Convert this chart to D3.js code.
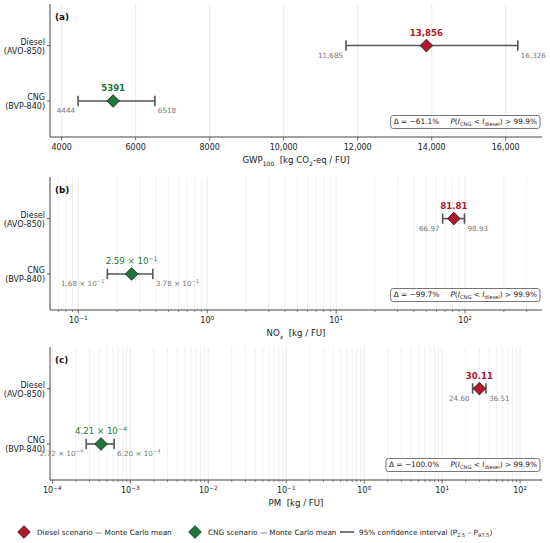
<!DOCTYPE html>
<html>
<head>
<meta charset="utf-8">
<script src="https://cdn.jsdelivr.net/npm/d3@7"></script>
<style>
  body { margin: 0; background: #fff; }
  svg { font-family: "DejaVu Sans", sans-serif; }
  text { white-space: pre; }
</style>
</head>
<body>
<svg id="chart" width="550" height="543"></svg>
<script>
// scenario order: Diesel first, CNG second
const scenarios = ['Diesel', 'CNG'];
const vehicles = ['(AVO-850)', '(BVP-840)'];

const gwpMean = [13856, 5391];
const gwpLo = [11685, 4444];
const gwpHi = [16326, 6518];

const noxMean = [81.81, 0.259];
const noxLo = [66.97, 0.168];
const noxHi = [98.93, 0.378];

const pmMean = [30.11, 4.21e-4];
const pmLo = [24.60, 2.72e-4];
const pmHi = [36.51, 6.20e-4];

const panelTags = ['(a)', '(b)', '(c)'];
const deltas = ['\u221261.1%', '\u221299.7%', '\u2212100.0%'];
const gwpTicks = [4000, 6000, 8000, 10000, 12000, 14000, 16000];

const colors = { Diesel: '#b2182b', CNG: '#1b7837' };
const ciColor = '#555';
const labelGray = '#777';

const svg = d3.select('#chart');
const left = 50, right = 542, panelH = 133;
const tops = [4, 177, 347];

function fmtGwp(v) {
    return v >= 10000 ? d3.format(',')(v) : d3.format('d')(v);
}

// write "m × 10^e" with a superscript into a text selection
function sciText(sel, v) {
    const e = Math.floor(Math.log10(v));
    const m = v / Math.pow(10, e);
    sel.append('tspan').text(`${m.toFixed(2)} \u00d7 10`);
    sel.append('tspan').attr('dy', -3).attr('font-size', '0.72em').text(String(e).replace('-', '\u2212'));
}

function valueText(sel, v, kind) {
    if (kind === 'gwp') sel.text(fmtGwp(v));
    else if (v < 1) sciText(sel, v);
    else sel.text(v.toFixed(2));
}

function drawPanel(i, cfg) {
    const top = tops[i], bottom = top + panelH;
    const g = svg.append('g');

    const x = cfg.log
        ? d3.scaleLog().domain(cfg.domain).range([left, right])
        : d3.scaleLinear().domain(cfg.domain).range([left, right]);
    const y = d3.scaleLinear().domain([-0.65, 1.75]).range([bottom, top]);
    const yPos = s => (s === 'Diesel' ? y(1) : y(0));

    // grid
    let majors, minors = [];
    if (cfg.log) {
        const lo = Math.ceil(Math.log10(cfg.domain[0]));
        const hi = Math.floor(Math.log10(cfg.domain[1]));
        majors = d3.range(lo, hi + 1).map(e => Math.pow(10, e));
        for (let e = lo - 1; e <= hi; e++) {
            for (let k = 2; k <= 9; k++) {
                const v = k * Math.pow(10, e);
                if (v >= cfg.domain[0] && v <= cfg.domain[1]) minors.push(v);
            }
        }
    } else {
        majors = gwpTicks;
    }

    g.selectAll('.gmin').data(minors).enter().append('line')
        .attr('x1', d => x(d)).attr('x2', d => x(d))
        .attr('y1', top).attr('y2', bottom)
        .attr('stroke', '#e6e6e6').attr('stroke-width', 0.6);
    g.selectAll('.gmaj').data(majors).enter().append('line')
        .attr('x1', d => x(d)).attr('x2', d => x(d))
        .attr('y1', top).attr('y2', bottom)
        .attr('stroke', '#e3e3e3').attr('stroke-width', 0.7);

    // spines
    g.append('line').attr('x1', left).attr('x2', left).attr('y1', top).attr('y2', bottom)
        .attr('stroke', '#444').attr('stroke-width', 1);
    g.append('line').attr('x1', left).attr('x2', right).attr('y1', bottom).attr('y2', bottom)
        .attr('stroke', '#444').attr('stroke-width', 1);

    // x ticks
    g.selectAll('.tmin').data(minors).enter().append('line')
        .attr('x1', d => x(d)).attr('x2', d => x(d))
        .attr('y1', bottom).attr('y2', bottom + 2)
        .attr('stroke', '#444').attr('stroke-width', 0.6);
    g.selectAll('.tmaj').data(majors).enter().append('line')
        .attr('x1', d => x(d)).attr('x2', d => x(d))
        .attr('y1', bottom).attr('y2', bottom + 3.5)
        .attr('stroke', '#444').attr('stroke-width', 0.8);

    const tl = g.selectAll('.tl').data(majors).enter().append('text')
        .attr('x', d => x(d)).attr('y', bottom + 13)
        .attr('text-anchor', 'middle').attr('font-size', 8).attr('fill', '#222');
    if (cfg.log) {
        tl.each(function(d) {
            const t = d3.select(this);
            const e = Math.round(Math.log10(d));
            t.append('tspan').text('10');
            t.append('tspan').attr('dy', -3.5).attr('font-size', '0.72em')
                .text(String(e).replace('-', '\u2212'));
        });
    } else {
        tl.text(d => fmtGwp(d));
    }

    // axis label
    const xl = g.append('text').attr('x', (left + right) / 2).attr('y', bottom + 26)
        .attr('text-anchor', 'middle').attr('font-size', 8.6).attr('fill', '#222');
    cfg.axisLabel(xl);

    // y ticks and labels
    scenarios.forEach((s, k) => {
        const yy = yPos(s);
        g.append('line').attr('x1', left - 3).attr('x2', left).attr('y1', yy).attr('y2', yy)
            .attr('stroke', '#444').attr('stroke-width', 0.8);
        const t = g.append('text').attr('text-anchor', 'end').attr('font-size', 8).attr('fill', '#222');
        t.append('tspan').attr('x', left - 5).attr('y', yy - 1).text(s);
        t.append('tspan').attr('x', left - 5).attr('y', yy + 8.5).text(vehicles[k]);
    });

    // panel tag
    g.append('text').attr('x', left + 5).attr('y', top + 16)
        .attr('font-size', 8.8).attr('font-weight', 'bold').attr('fill', '#111').text(panelTags[i]);

    // CI bars, markers, labels
    scenarios.forEach((s, k) => {
        const yy = yPos(s);
        const x0 = x(cfg.lo[k]), x1 = x(cfg.hi[k]), xm = x(cfg.mean[k]);
        g.append('line').attr('x1', x0).attr('x2', x1).attr('y1', yy).attr('y2', yy)
            .attr('stroke', ciColor).attr('stroke-width', 1.6);
        [x0, x1].forEach(cx => {
            g.append('line').attr('x1', cx).attr('x2', cx).attr('y1', yy - 5.2).attr('y2', yy + 5.2)
                .attr('stroke', ciColor).attr('stroke-width', 1.6);
        });
        g.append('path')
            .attr('d', d3.symbol().type(d3.symbolSquare).size(80))
            .attr('transform', `translate(${xm},${yy}) rotate(45)`)
            .attr('fill', colors[s]).attr('stroke', '#222').attr('stroke-width', 0.8);

        const sci = cfg.kind !== 'gwp' && cfg.mean[k] < 1;
        const mt = g.append('text').attr('x', xm).attr('y', yy - 10)
            .attr('text-anchor', 'middle').attr('font-size', 8.6)
            .attr('font-weight', sci ? 'normal' : 'bold').attr('fill', colors[s]);
        valueText(mt, cfg.mean[k], cfg.kind);

        const lt = g.append('text').attr('x', x0 - 3).attr('y', yy + 12)
            .attr('text-anchor', 'end').attr('font-size', 7.2).attr('fill', labelGray);
        valueText(lt, cfg.lo[k], cfg.kind);
        const ht = g.append('text').attr('x', x1 + 3).attr('y', yy + 12)
            .attr('text-anchor', 'start').attr('font-size', 7.2).attr('fill', labelGray);
        valueText(ht, cfg.hi[k], cfg.kind);
    });

    // annotation box
    const ann = g.append('text').attr('y', bottom - 13).attr('font-size', 7.4).attr('fill', '#222');
    ann.append('tspan').text(`\u0394 = ${deltas[i]}\u2003\u2002`);
    ann.append('tspan').attr('font-style', 'italic').text('P');
    ann.append('tspan').text('(');
    ann.append('tspan').attr('font-style', 'italic').text('I');
    ann.append('tspan').attr('dy', 2).attr('font-size', '0.7em').text('CNG');
    ann.append('tspan').attr('dy', -2).text(' < ');
    ann.append('tspan').attr('font-style', 'italic').text('I');
    ann.append('tspan').attr('dy', 2).attr('font-size', '0.7em').text('diesel');
    ann.append('tspan').attr('dy', -2).text(') > 99.9%');
    const bb = ann.node().getBBox();
    const annX = right - 5 - bb.width;
    ann.attr('x', annX);
    const b2 = ann.node().getBBox();
    g.insert('rect', 'text:last-child')
        .attr('x', b2.x - 3).attr('y', b2.y - 1.5)
        .attr('width', b2.width + 6).attr('height', b2.height + 3)
        .attr('rx', 2.5).attr('fill', '#fff').attr('stroke', '#666').attr('stroke-width', 0.9);
    ann.raise();
}

drawPanel(0, {
    kind: 'gwp', log: false, domain: [3685, 16980],
    mean: gwpMean, lo: gwpLo, hi: gwpHi,
    axisLabel: t => {
        t.append('tspan').text('GWP');
        t.append('tspan').attr('dy', 2.5).attr('font-size', '0.7em').text('100');
        t.append('tspan').attr('dy', -2.5).text('\u00a0\u00a0[kg CO');
        t.append('tspan').attr('dy', 2.5).attr('font-size', '0.7em').text('2');
        t.append('tspan').attr('dy', -2.5).text('-eq / FU]');
    }
});

drawPanel(1, {
    kind: 'nox', log: true, domain: [0.0603, 395],
    mean: noxMean, lo: noxLo, hi: noxHi,
    axisLabel: t => {
        t.append('tspan').text('NO');
        t.append('tspan').attr('dy', 2.5).attr('font-size', '0.7em').attr('font-style', 'italic').text('x');
        t.append('tspan').attr('dy', -2.5).text('\u00a0\u00a0[kg / FU]');
    }
});

drawPanel(2, {
    kind: 'pm', log: true, domain: [9.33e-5, 191],
    mean: pmMean, lo: pmLo, hi: pmHi,
    axisLabel: t => { t.text('PM\u00a0\u00a0[kg / FU]'); }
});

// legend
const legY = 532;
const leg = svg.append('g').attr('font-size', 7.3).attr('fill', '#222');
[['Diesel', 24, 'Diesel scenario \u2014 Monte Carlo mean'],
 ['CNG', 195, 'CNG scenario \u2014 Monte Carlo mean']].forEach(([s, lx, txt]) => {
    leg.append('path')
        .attr('d', d3.symbol().type(d3.symbolSquare).size(80))
        .attr('transform', `translate(${lx},${legY}) rotate(45)`)
        .attr('fill', colors[s]).attr('stroke', '#222').attr('stroke-width', 0.8);
    leg.append('text').attr('x', lx + 13).attr('y', legY + 3).text(txt);
});
leg.append('line').attr('x1', 340).attr('x2', 354).attr('y1', legY).attr('y2', legY)
    .attr('stroke', ciColor).attr('stroke-width', 1.6);
const ct = leg.append('text').attr('x', 359).attr('y', legY + 3);
ct.append('tspan').text('95% confidence interval (P');
ct.append('tspan').attr('dy', 2).attr('font-size', '0.7em').text('2.5');
ct.append('tspan').attr('dy', -2).text(' \u2013 P');
ct.append('tspan').attr('dy', 2).attr('font-size', '0.7em').text('97.5');
ct.append('tspan').attr('dy', -2).text(')');
</script>
</body>
</html>
